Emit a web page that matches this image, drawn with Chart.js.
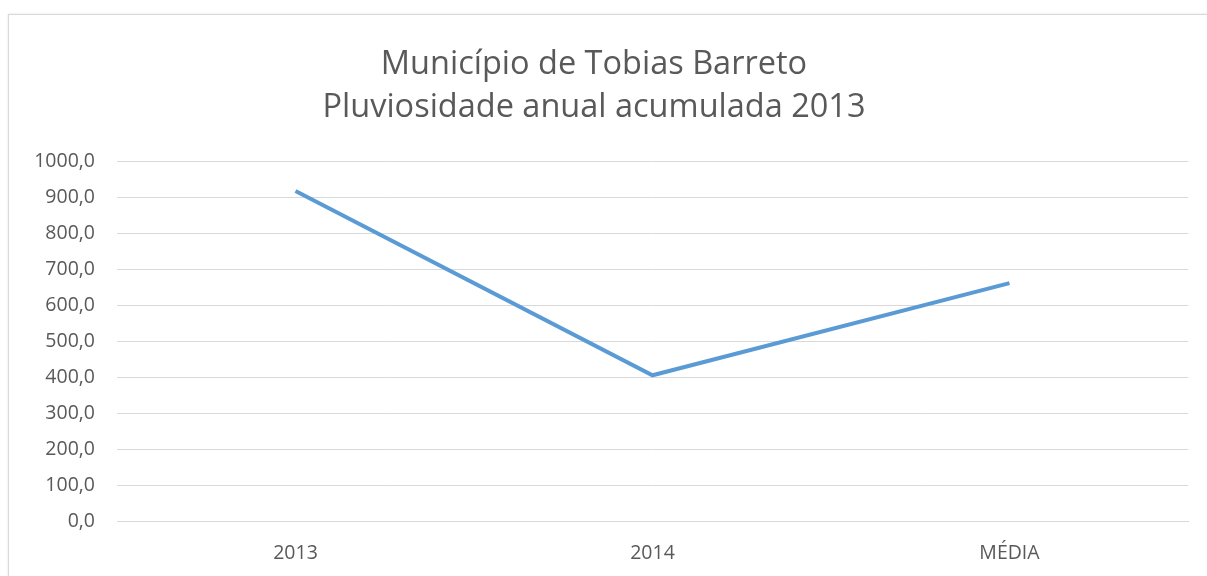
<!DOCTYPE html>
<html>
<head>
<meta charset="utf-8">
<script src="https://cdn.jsdelivr.net/npm/chart.js@4"></script>
<style>
html,body{margin:0;padding:0;background:#fff;overflow:hidden;}
#wrap{position:absolute;left:0;top:0;width:1207px;height:576px;}
#frame{position:absolute;left:8px;top:14px;width:1300px;height:700px;border:1px solid #d9d9d9;box-shadow:0 0 2px #e0e0e0;}
canvas{position:absolute;left:0;top:0;}
</style>
</head>
<body>
<div id="wrap">
<div id="frame"></div>
<canvas id="c" width="1207" height="576"></canvas>
</div>
<script>
const categories = ["2013", "2014", "MÉDIA"];
const rainfall = [918.6, 405.6, 662.1];
const titleLines = ["Município de Tobias Barreto", "Pluviosidade anual acumulada 2013"];

const fmt = v => Number(v).toFixed(1).replace('.', ',');

new Chart(document.getElementById('c'), {
  type: 'line',
  data: {
    labels: categories,
    datasets: [{
      data: rainfall,
      borderColor: '#5B9BD5',
      borderWidth: 4,
      pointRadius: 0,
      tension: 0,
      fill: false
    }]
  },
  options: {
    responsive: false,
    animation: false,
    layout: { padding: { top: 43, right: 19, left: 0, bottom: 0 } },
    plugins: {
      legend: { display: false },
      tooltip: { enabled: false },
      title: {
        display: true,
        text: titleLines,
        color: '#595959',
        font: { family: 'Open Sans', size: 32.5, weight: 'normal', lineHeight: 1.32 },
        padding: { top: 0, bottom: 33 }
      }
    },
    scales: {
      x: {
        offset: true,
        grid: { display: false, drawTicks: false },
        border: { display: true, color: '#d9d9d9', width: 1 },
        ticks: { color: '#595959', font: { family: 'Open Sans', size: 19.5 }, padding: 21 },
        afterFit: s => { s.height = 55; }
      },
      y: {
        min: 0, max: 1000,
        ticks: { stepSize: 100, color: '#595959', font: { family: 'Open Sans', size: 19.5 }, padding: 22, callback: v => fmt(v) },
        grid: { color: '#d9d9d9', lineWidth: 1, drawTicks: false },
        border: { display: false },
        afterFit: s => { s.width = 117; }
      }
    }
  }
});
</script>
</body>
</html>
